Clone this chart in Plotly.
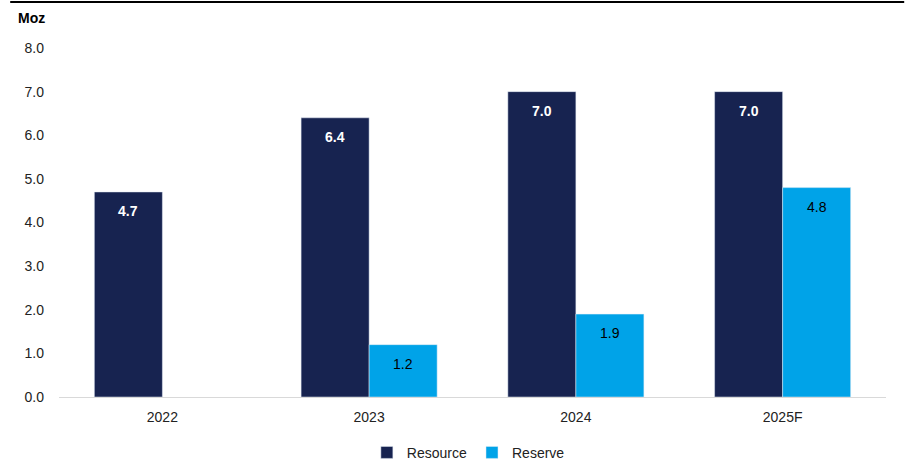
import plotly.graph_objects as go

years = ["2022", "2023", "2024", "2025F"]
resource = [4.7, 6.4, 7.0, 7.0]
reserve = [None, 1.2, 1.9, 4.8]
y_ticks = [0, 1, 2, 3, 4, 5, 6, 7, 8]

NAVY = "#172350"
CYAN = "#00A3E8"
FONT = "Liberation Sans, Arial, sans-serif"
BARGAP = 0.342
HALF_BAR = (1 - BARGAP) / 4  # centre offset of each bar inside its group

fig = go.Figure()
fig.add_trace(go.Bar(name="Resource", x=years, y=resource, marker_color=NAVY))
fig.add_trace(go.Bar(name="Reserve", x=years, y=reserve, marker_color=CYAN))

# value labels sit a little below the top of each bar
labels = []
for i, v in enumerate(resource):
    labels.append(dict(x=i - HALF_BAR, y=v, text=f"<b>{v:.1f}</b>",
                       font=dict(color="white", size=14)))
for i, v in enumerate(reserve):
    if v is not None:
        labels.append(dict(x=i + HALF_BAR, y=v, text=f"{v:.1f}",
                           font=dict(color="black", size=14)))
for a in labels:
    a.update(xref="x", yref="y", showarrow=False, yshift=-19,
             xanchor="center", yanchor="middle")

fig.update_layout(
    width=911, height=463,
    margin=dict(l=59, r=25, t=48, b=66, autoexpand=False),
    paper_bgcolor="white", plot_bgcolor="white",
    barmode="group", bargap=BARGAP, bargroupgap=0,
    font=dict(family=FONT, size=14, color="#222222"),
    showlegend=True,
    legend=dict(orientation="h", x=0.495, xanchor="center",
                yref="container", y=0.022, yanchor="middle",
                font=dict(size=14, color="#222222"),
                itemwidth=30, traceorder="normal"),
    xaxis=dict(showline=True, linecolor="#d9d9d9", linewidth=1,
               ticks="", tickfont=dict(size=14), showgrid=False,
               ticklabelstandoff=7),
    yaxis=dict(range=[0, 8], tickvals=y_ticks,
               ticktext=[f"{v:.1f}" for v in y_ticks],
               showgrid=False, zeroline=False, showline=False,
               ticks="", ticklabelstandoff=14, tickfont=dict(size=14)),
    shapes=[dict(type="line", xref="paper", yref="paper",
                 x0=-0.059, x1=1.022, y0=1.132, y1=1.132,
                 line=dict(color="black", width=2))],
    annotations=labels + [dict(text="<b>Moz</b>", xref="paper", yref="paper",
                               x=-0.052, y=1.086, xanchor="left",
                               yanchor="middle", showarrow=False,
                               font=dict(size=14, color="black"))],
)

fig.write_html("out.html")
